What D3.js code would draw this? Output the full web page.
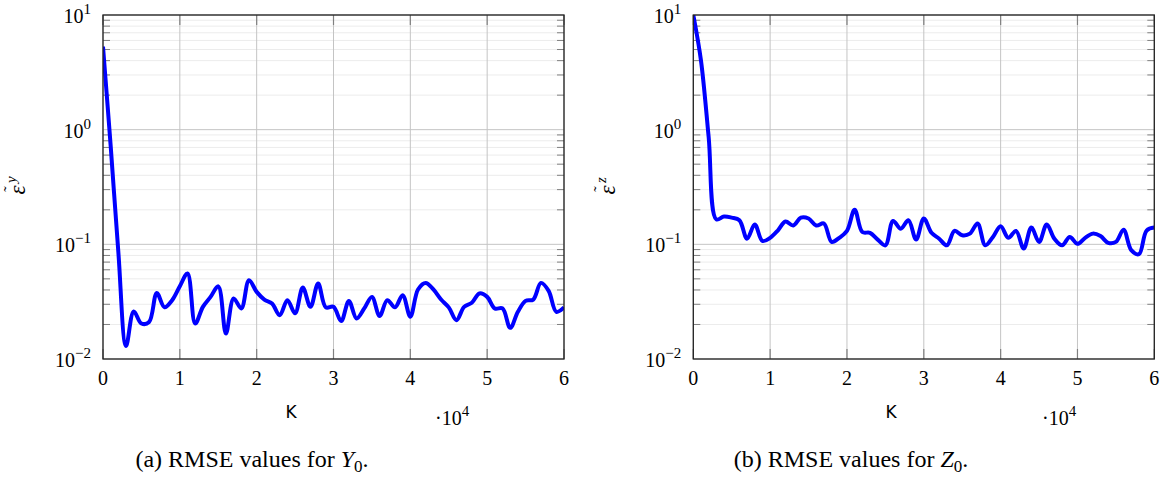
<!DOCTYPE html>
<html>
<head>
<meta charset="utf-8">
<script src="https://cdn.jsdelivr.net/npm/d3@7"></script>
<style>
  body { margin: 0; background: #fff; }
  svg { display: block; }
  .tick-label { font-family: "Liberation Serif", "DejaVu Serif", serif; font-size: 20px; fill: #000; }
  .cap { font-family: "Liberation Serif", "DejaVu Serif", serif; font-size: 24px; fill: #000; }
  .xlab { font-family: "DejaVu Sans", "Liberation Sans", sans-serif; font-size: 17px; fill: #000; }
</style>
</head>
<body>
<div id="chart"></div>
<script>
// iterations K (x axis, shown in units of 10^4)
const iterK = [0, 1000, 2000, 3000, 4000, 5000, 6000, 7000, 8000, 9000,
  10000, 11000, 12000, 13000, 14000, 15000, 16000, 17000, 18000, 19000,
  20000, 21000, 22000, 23000, 24000, 25000, 26000, 27000, 28000, 29000,
  30000, 31000, 32000, 33000, 34000, 35000, 36000, 37000, 38000, 39000,
  40000, 41000, 42000, 43000, 44000, 45000, 46000, 47000, 48000, 49000,
  50000, 51000, 52000, 53000, 54000, 55000, 56000, 57000, 58000, 59000, 60000];

// RMSE for Y0 (left panel)
const rmseY = [5.3, 0.72, 0.085, 0.013, 0.026, 0.0204, 0.021, 0.0377, 0.0283, 0.0326,
  0.0431, 0.0556, 0.0204, 0.0285, 0.0348, 0.043, 0.0167, 0.0337, 0.0276, 0.0486,
  0.0385, 0.033, 0.0305, 0.0241, 0.0326, 0.025, 0.042, 0.0285, 0.0455, 0.0282,
  0.0285, 0.0214, 0.0321, 0.0226, 0.0276, 0.0348, 0.0237, 0.0326, 0.0282, 0.036,
  0.0234, 0.0404, 0.0461, 0.0404, 0.033, 0.0282, 0.0218, 0.0285, 0.0309, 0.0373,
  0.0348, 0.0276, 0.0276, 0.0187, 0.0258, 0.0321, 0.033, 0.0461, 0.0393, 0.0258, 0.0282];

// RMSE for Z0 (right panel)
const rmseZ = [10, 4.0, 0.86, 0.165, 0.175, 0.171, 0.162, 0.112, 0.149, 0.107,
  0.114, 0.132, 0.158, 0.146, 0.171, 0.168, 0.146, 0.152, 0.105, 0.114,
  0.131, 0.2, 0.128, 0.126, 0.11, 0.098, 0.16, 0.137, 0.162, 0.11,
  0.168, 0.126, 0.112, 0.098, 0.131, 0.12, 0.124, 0.152, 0.098, 0.116,
  0.144, 0.114, 0.131, 0.092, 0.14, 0.105, 0.149, 0.112, 0.098, 0.116,
  0.101, 0.114, 0.124, 0.118, 0.103, 0.105, 0.134, 0.089, 0.082, 0.132, 0.14];

const xTicks = [0, 10000, 20000, 30000, 40000, 50000, 60000];
const xTickLabels = ["0", "1", "2", "3", "4", "5", "6"];
const yTicks = [0.01, 0.1, 1, 10];
const yTickExp = ["\u22122", "\u22121", "0", "1"];

const W = 1169, H = 477;
const svg = d3.select("#chart").append("svg")
  .attr("width", W).attr("height", H);

const panels = [
  {left: 103, data: rmseY, sup: "y", letter: "(a)", varName: "Y", capX: 252, kX: 291, mulX: 435},
  {left: 693.3, data: rmseZ, sup: "z", letter: "(b)", varName: "Z", capX: 851, kX: 891, mulX: 1042}
];

const pw = 461, plotTop = 15, plotBottom = 359;

panels.forEach(function(p, pi) {
  const x = d3.scaleLinear().domain([0, 60000]).range([p.left, p.left + pw]);
  const y = d3.scaleLog().domain([0.01, 10]).range([plotBottom, plotTop]);
  const g = svg.append("g");

  // minor grid (y)
  const minor = [];
  [0.01, 0.1, 1].forEach(function(dec) {
    for (let m = 2; m <= 9; m++) minor.push(dec * m);
  });
  g.selectAll(".minor").data(minor).enter().append("line")
    .attr("x1", x(0)).attr("x2", x(60000))
    .attr("y1", d => y(d)).attr("y2", d => y(d))
    .style("stroke", "#ececec").style("stroke-width", 1);

  // major grid
  g.selectAll(".gy").data(yTicks).enter().append("line")
    .attr("x1", x(0)).attr("x2", x(60000))
    .attr("y1", d => y(d)).attr("y2", d => y(d))
    .style("stroke", "#c4c4c4").style("stroke-width", 1);
  g.selectAll(".gx").data(xTicks).enter().append("line")
    .attr("x1", d => x(d)).attr("x2", d => x(d))
    .attr("y1", plotTop).attr("y2", plotBottom)
    .style("stroke", "#c4c4c4").style("stroke-width", 1);

  // ticks inside, both sides
  g.selectAll(".mtl").data(minor).enter().append("line")
    .attr("x1", x(0)).attr("x2", x(0) + 7)
    .attr("y1", d => y(d)).attr("y2", d => y(d))
    .style("stroke", "#808080").style("stroke-width", 1);
  g.selectAll(".mtr").data(minor).enter().append("line")
    .attr("x1", x(60000)).attr("x2", x(60000) - 7)
    .attr("y1", d => y(d)).attr("y2", d => y(d))
    .style("stroke", "#808080").style("stroke-width", 1);
  g.selectAll(".xtt").data(xTicks).enter().append("line")
    .attr("x1", d => x(d)).attr("x2", d => x(d))
    .attr("y1", plotTop).attr("y2", plotTop + 10)
    .style("stroke", "#808080").style("stroke-width", 1.2);
  g.selectAll(".xtb").data(xTicks).enter().append("line")
    .attr("x1", d => x(d)).attr("x2", d => x(d))
    .attr("y1", plotBottom).attr("y2", plotBottom - 10)
    .style("stroke", "#808080").style("stroke-width", 1.2);

  // line
  const clipId = "clip" + pi;
  svg.append("clipPath").attr("id", clipId).append("rect")
    .attr("x", x(0)).attr("y", plotTop).attr("width", pw).attr("height", plotBottom - plotTop);
  const line = d3.line()
    .x((d, i) => x(iterK[i]))
    .y(d => y(d))
    .curve(d3.curveCatmullRom.alpha(0.5));
  g.append("path")
    .datum(p.data)
    .attr("clip-path", "url(#" + clipId + ")")
    .attr("d", line)
    .style("fill", "none")
    .style("stroke", "#0000ff")
    .style("stroke-width", 4)
    .style("stroke-linejoin", "round");

  // frame
  g.append("rect")
    .attr("x", x(0)).attr("y", plotTop).attr("width", pw).attr("height", plotBottom - plotTop)
    .style("fill", "none").style("stroke", "#222").style("stroke-width", 1.3);

  // x tick labels
  g.selectAll(".xl").data(xTicks).enter().append("text")
    .attr("class", "tick-label")
    .attr("x", d => x(d)).attr("y", 385)
    .attr("text-anchor", "middle")
    .text((d, i) => xTickLabels[i]);

  // y tick labels 10^k
  yTicks.forEach(function(t, i) {
    const tx = g.append("text").attr("class", "tick-label")
      .attr("x", x(0) - 12).attr("y", y(t) + 8)
      .attr("text-anchor", "end");
    tx.append("tspan").text("10");
    tx.append("tspan").attr("dy", -9).style("font-size", "15px").text(yTickExp[i]);
  });

  // axis label K and multiplier
  g.append("text").attr("class", "xlab")
    .attr("x", p.kX).attr("y", 418).attr("text-anchor", "middle").text("K");
  const mul = g.append("text").attr("class", "tick-label")
    .attr("x", p.mulX).attr("y", 425);
  mul.append("tspan").text("\u00b710");
  mul.append("tspan").attr("dy", -9).style("font-size", "15px").text("4");

  // y label: epsilon with tilde, rotated
  const yl = g.append("g")
    .attr("transform", "translate(" + (p.left - 78) + "," + ((plotTop + plotBottom) / 2) + ") rotate(-90)");
  yl.append("text").attr("class", "tick-label")
    .attr("x", -3).attr("y", 0)
    .attr("text-anchor", "middle")
    .style("font-style", "italic").style("font-size", "23px")
    .text("\u03b5");
  yl.append("text").attr("class", "tick-label")
    .attr("x", -2).attr("y", -10)
    .attr("text-anchor", "middle")
    .style("font-size", "16px")
    .text("\u02dc");
  yl.append("text").attr("class", "tick-label")
    .attr("x", 4).attr("y", -9)
    .style("font-style", "italic").style("font-size", "15px")
    .text(p.sup);

  // caption
  const cap = g.append("text").attr("class", "cap")
    .attr("x", p.capX).attr("y", 467).attr("text-anchor", "middle");
  cap.append("tspan").text(p.letter + " RMSE values for ");
  cap.append("tspan").style("font-style", "italic").text(p.varName);
  cap.append("tspan").attr("dy", 5).style("font-size", "17px").text("0");
  cap.append("tspan").attr("dy", -5).text(".");
});
</script>
</body>
</html>
